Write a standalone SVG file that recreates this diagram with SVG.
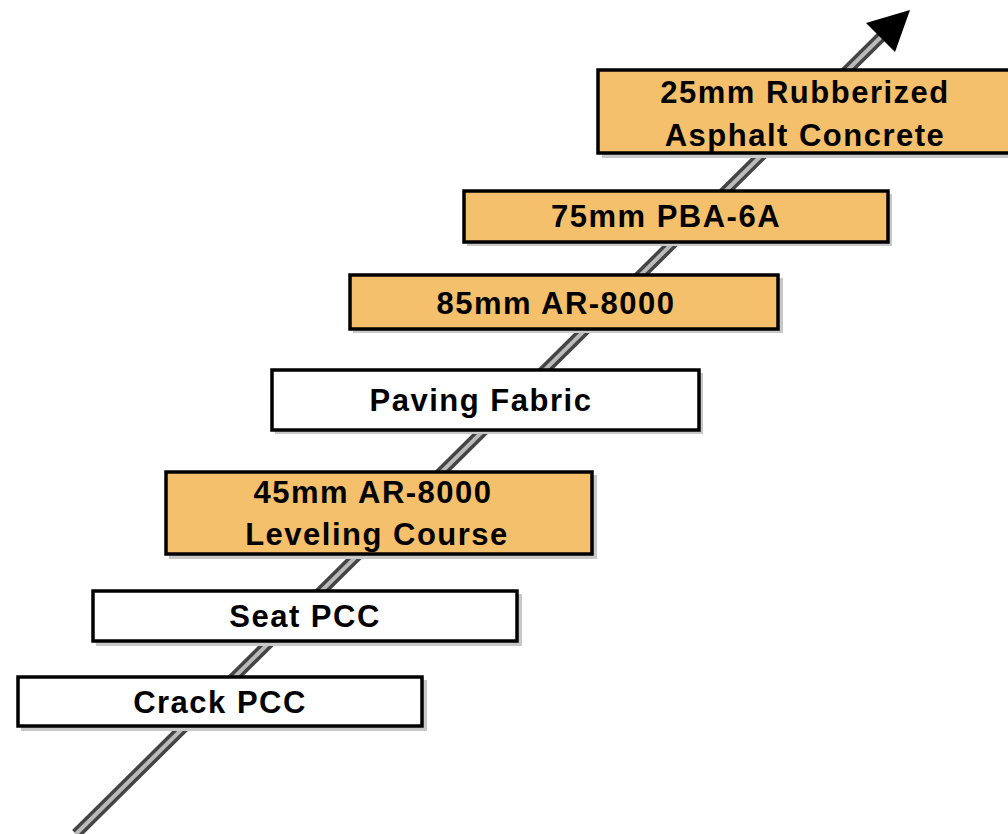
<svg xmlns="http://www.w3.org/2000/svg" width="1008" height="834" viewBox="0 0 1008 834">
<style>
.box{stroke:#000;stroke-width:3.5}
.o{fill:#f5c06c}
.w{fill:#fff}
.sh{fill:#c8c8c8}
text{font-family:"Liberation Sans",Arial,sans-serif;font-size:31px;font-weight:bold;fill:#000;text-anchor:middle;letter-spacing:1.5px}
</style>
<rect width="1008" height="834" fill="#fff"/>
<g id="connectors">
<line x1="76" y1="834" x2="884" y2="34" stroke="#444" stroke-width="11"/>
<line x1="76" y1="834" x2="884" y2="34" stroke="#bbb" stroke-width="4"/>
<polygon points="910,10 866,23 895,52" fill="#000"/>
</g>
<g id="n1">
<rect class="sh" x="602" y="74" width="420" height="84"/>
<rect class="box o" x="598" y="70" width="420" height="83"/>
<text x="805" y="103">25mm Rubberized</text>
<text x="805" y="146">Asphalt Concrete</text>
</g>
<g id="n2">
<rect class="sh" x="467" y="194" width="425" height="52"/>
<rect class="box o" x="464" y="191" width="424" height="51"/>
<text x="666" y="227">75mm PBA-6A</text>
</g>
<g id="n3">
<rect class="sh" x="353" y="278" width="430" height="55"/>
<rect class="box o" x="350" y="275" width="428" height="54"/>
<text x="556" y="314">85mm AR-8000</text>
</g>
<g id="n4">
<rect class="sh" x="275" y="373" width="428" height="61"/>
<rect class="box w" x="272" y="370" width="427" height="60"/>
<text x="481" y="411">Paving Fabric</text>
</g>
<g id="n5">
<rect class="sh" x="169" y="475" width="428" height="84"/>
<rect class="box o" x="166" y="472" width="426" height="82"/>
<text x="373" y="503">45mm AR-8000</text>
<text x="377" y="545">Leveling Course</text>
</g>
<g id="n6">
<rect class="sh" x="96" y="594" width="426" height="52"/>
<rect class="box w" x="93" y="591" width="424" height="50"/>
<text x="305" y="627">Seat PCC</text>
</g>
<g id="n7">
<rect class="sh" x="21" y="680" width="406" height="51"/>
<rect class="box w" x="18" y="677" width="404" height="49"/>
<text x="220" y="713">Crack PCC</text>
</g>
</svg>
